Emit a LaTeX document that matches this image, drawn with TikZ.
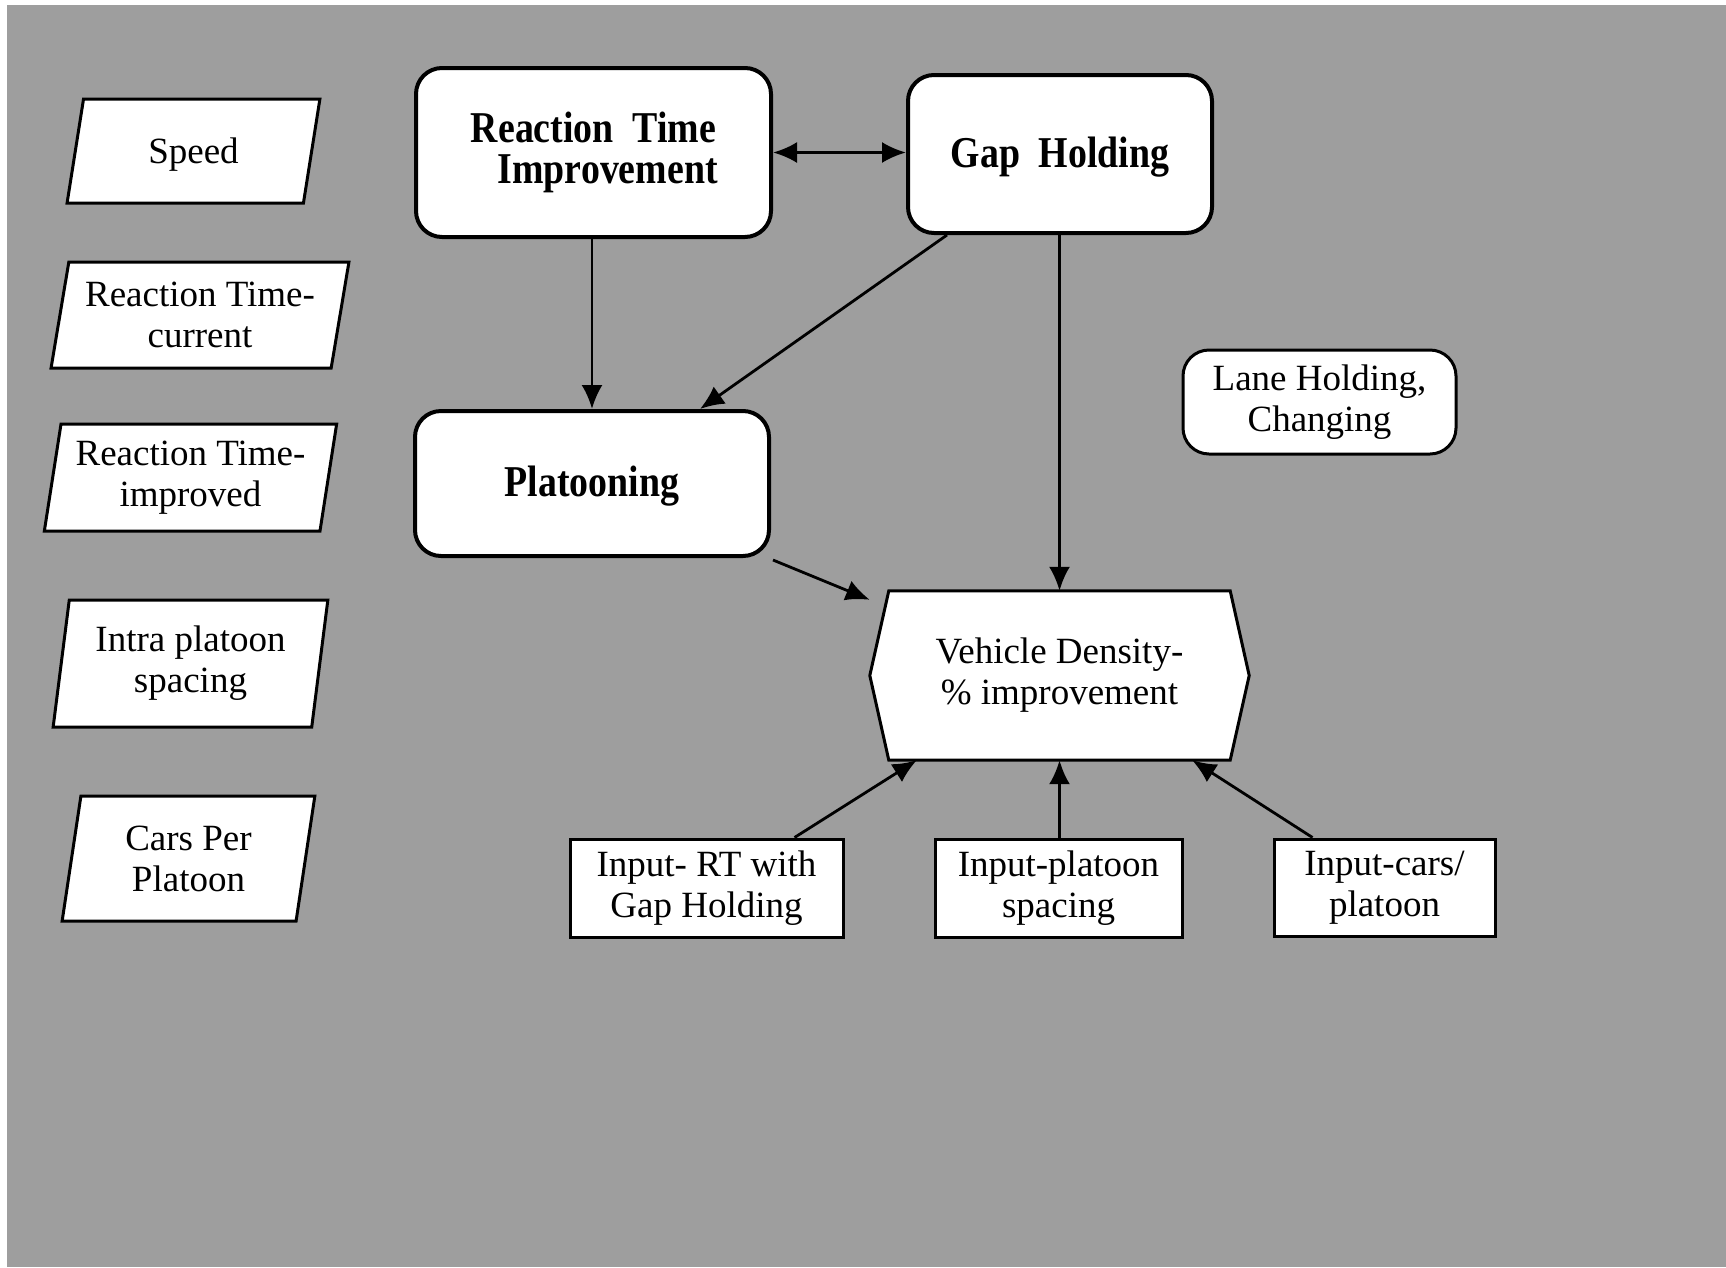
\documentclass[tikz,border=0pt]{standalone}
\usepackage{fontspec}
\setmainfont{Liberation Serif}
\newfontfamily\headfont{Liberation Serif Bold}[FakeStretch=0.86]
\usetikzlibrary{shapes.geometric,arrows.meta,calc}
\newcommand\lowered[2]{\raisebox{-#1}[\height][\depth]{#2}}

\begin{document}
\begin{tikzpicture}[x=1pt,y=-1pt,
  txt/.style={font=\fontsize{37}{41}\selectfont, align=center},
  slanted/.style={txt, trapezium, trapezium stretches=true, draw=black,
    fill=white, line width=3pt, inner sep=0pt},
  bigbox/.style={draw=black, fill=white, line width=4pt, rounded corners=26pt,
    inner sep=0pt, align=center, font=\headfont\fontsize{44}{41}\selectfont},
  softbox/.style={txt, draw=black, fill=white, line width=3pt,
    rounded corners=26pt, inner sep=0pt},
  inbox/.style={txt, draw=black, fill=white, line width=3pt, inner sep=0pt},
  tip/.tip={Latex[length=24pt,width=21pt]},
  arr/.style={line width=2.8pt, -tip},
  darr/.style={line width=2.8pt, tip-tip}]

\useasboundingbox (0,0) rectangle (1726,1267);
% dotted screen background
\fill[black!38] (7,5) rectangle (1726,1267);

% parameter column
\node[slanted, trapezium left angle=78.6, trapezium right angle=101.4,
  minimum width=253, minimum height=104] (speed) at (193.5,151)
  {\lowered{4pt}{Speed}};
\node[slanted, trapezium left angle=76.7, trapezium right angle=103.3,
  minimum width=298, minimum height=106] (rtcur) at (200,315) {Reaction Time-\\current};
\node[slanted, trapezium left angle=78.6, trapezium right angle=101.4,
  minimum width=293, minimum height=107] (rtimp) at (190.5,477.5) {Reaction Time-\\improved};
\node[slanted, trapezium left angle=80.4, trapezium right angle=99.6,
  minimum width=275, minimum height=127] (intra) at (190.5,663.5) {Intra platoon\\spacing};
\node[slanted, trapezium left angle=80.5, trapezium right angle=99.5,
  minimum width=253, minimum height=125] (cars) at (188.5,858.5) {Cars Per\\Platoon};

% control functions
\node[bigbox, minimum width=355, minimum height=169] (rt) at (593.5,152.5)
  {Reaction\ \ Time\\\ \ \ Improvement};
\node[bigbox, minimum width=304, minimum height=158] (gap) at (1060,154)
  {\lowered{3pt}{Gap\ \ Holding}};
\node[bigbox, minimum width=354, minimum height=145] (plat) at (592,483.5)
  {\lowered{3pt}{Platooning}};
\node[softbox, minimum width=273, minimum height=104] (lane) at (1319.5,402)
  {Lane Holding,\\Changing};

% result hexagon
\node[txt, minimum width=341, minimum height=169, inner sep=0pt] (vd) at (1059.5,675.5) {};
\draw[line width=3pt, fill=white, line join=miter]
  (vd.north west) -- (vd.north east) -- ($(vd.east)+(19,0)$) --
  (vd.south east) -- (vd.south west) -- ($(vd.west)+(-19,0)$) -- cycle;
\node[txt] at (vd.center) {Vehicle Density-\\\% improvement};

% inputs
\node[inbox, minimum width=273, minimum height=98] (inrt) at (706.5,888)
  {Input- RT with\\Gap Holding};
\node[inbox, minimum width=247, minimum height=98] (inps) at (1058.5,888)
  {Input-platoon\\spacing};
\node[inbox, minimum width=221, minimum height=97] (incar) at (1384.5,887.5)
  {Input-cars/\\platoon};

% connectors
\draw[darr] (rt.east) -- (rt.east -| gap.west);
\draw[arr] (rt.south -| plat.north) -- (plat.north);
\draw[arr] ($(gap.south west)+(41,0)$) -- ($(plat.north)+(108,0)$);
\draw[arr] (gap.south -| vd.north) -- (vd.north);
\draw[arr] ($(plat.south east)+(2,2)$) -- ($(vd.north west)+(-19,9)$);
\draw[arr] ($(inrt.north)+(88,0)$) -- ($(vd.south west)+(28,0)$);
\draw[arr] (inps.north -| vd.south) -- (vd.south);
\draw[arr] ($(incar.north)+(-72,0)$) -- ($(vd.south east)+(-38,0)$);
\end{tikzpicture}
\end{document}
